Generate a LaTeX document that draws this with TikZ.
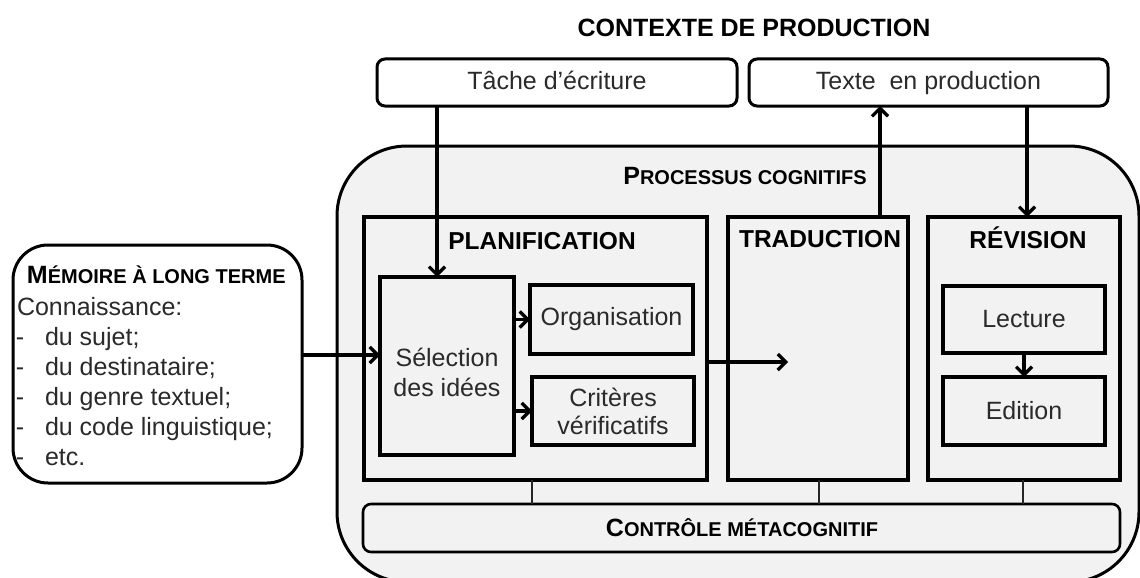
\documentclass[tikz,border=0pt]{standalone}
\usepackage{fontspec}
\setmainfont{Liberation Sans}
\usetikzlibrary{arrows.meta}
\definecolor{bggray}{HTML}{F2F2F2}
\definecolor{txtgray}{HTML}{2A2A2A}
\newcommand{\capL}[1]{{\fontsize{25}{25}\selectfont #1}}
\begin{document}
\begin{tikzpicture}[x=1pt,y=-1pt,
  every node/.style={inner sep=0pt, outer sep=0pt},
  frame/.style={draw=black, line width=3pt, fill=bggray},
  topbox/.style={draw=black, line width=3pt, fill=white, rounded corners=8pt,
    text=txtgray, font=\fontsize{25}{25}\selectfont, text height=17pt, text depth=3pt},
  panel/.style={draw=black, line width=3.6pt, fill=bggray},
  inbox/.style={draw=black, line width=3.6pt, fill=bggray, align=center, text=txtgray,
    font=\fontsize{25}{28}\selectfont},
  head/.style={font=\bfseries\fontsize{24.5}{25}\selectfont, anchor=base},
  scap/.style={font=\bfseries\fontsize{20}{20}\selectfont, anchor=base},
  plain/.style={font=\fontsize{25}{25}\selectfont, text=txtgray, anchor=base west},
  lbl/.style={font=\fontsize{25}{30}\selectfont, text=txtgray, align=center},
  arr/.style={line width=3.2pt, -{Straight Barb[length=8pt,width=16pt]}},
  link/.style={line width=1.8pt, draw=black!85}
]
\useasboundingbox (0,0) rectangle (1140,578);

% outer frame of cognitive processes
\node[frame, rounded corners=70pt, minimum width=802pt, minimum height=436pt] (proc) at (738,364) {};

% title and context boxes
\node[head, font=\bfseries\fontsize{25}{25}\selectfont] (ctx) at (754,37) {CONTEXTE DE PRODUCTION};
\node[topbox, minimum width=360pt, minimum height=47pt] (tache) at (557,82.5) {Tâche d’écriture};
\node[topbox, minimum width=359pt, minimum height=47pt] (texte) at (928.5,82.5) {Texte\ \ en production};

\node[scap] (proct) at (745,184) {\capL{P}ROCESSUS COGNITIFS};

% panels
\node[panel, minimum width=343pt, minimum height=263pt] (plan) at (535.5,348.5) {};
\node[panel, minimum width=180pt, minimum height=263pt] (trad) at (818,348.5) {};
\node[panel, minimum width=192pt, minimum height=263pt] (rev) at (1024,348.5) {};
\node[head] (planh) at (542,249) {PLANIFICATION};
\node[head] (tradh) at (820,247) {TRADUCTION};
\node[head] (revh) at (1028,248) {RÉVISION};

% inner boxes
\node[inbox, minimum width=134pt, minimum height=178pt] (sel) at (447,366) {};
\node[lbl] (selt) at (447,372) {Sélection\\des idées};
\node[inbox, minimum width=163pt, minimum height=69pt] (org) at (611.5,319.5) {Organisation};
\node[inbox, minimum width=162pt, minimum height=68pt] (crit) at (613,411) {Critères\\vérificatifs};
\node[inbox, minimum width=162pt, minimum height=67pt] (lect) at (1024,319.5) {Lecture};
\node[inbox, minimum width=162pt, minimum height=68pt] (edit) at (1024,411) {Edition};

% metacognitive control bar
\node[draw=black, line width=2.6pt, fill=bggray, rounded corners=8pt,
  minimum width=757pt, minimum height=48pt] (ctrl) at (741.5,528) {};
\node[scap] (ctrlt) at (742,536) {\capL{C}ONTRÔLE MÉTACOGNITIF};

% long-term memory box
\node[draw=black, line width=3pt, fill=white, rounded corners=35pt,
  minimum width=289pt, minimum height=238pt] (mem) at (157.5,364) {};
\node[scap, anchor=base west] (memh) at (27,283) {\capL{M}ÉMOIRE À LONG TERME};
\node[plain] (memc) at (17,315) {Connaissance:};
\foreach \t [count=\i] in {du sujet;, du destinataire;, du genre textuel;, du code linguistique;, etc.}{
  \node[plain] (d\i) at (16,315+30*\i) {-};
  \node[plain] (m\i) at (45,315+30*\i) {\t};
}

% helper coordinates
\coordinate (x437) at (437,0);
\coordinate (x880) at (880,0);
\coordinate (x1027) at (1027,0);
\coordinate (y355) at (0,355);
\coordinate (tin) at (788,362);
\coordinate (c1) at (532,0);
\coordinate (c2) at (819,0);
\coordinate (c3) at (1023,0);

% connectors
\draw[arr] (tache.south -| x437) -- (sel.north -| x437);
\draw[arr] (trad.north -| x880) -- (texte.south -| x880);
\draw[arr] (texte.south -| x1027) -- (rev.north -| x1027);
\draw[arr] (mem.east |- y355) -- (sel.west |- y355);
\draw[arr] (sel.east |- org.west) -- (org.west);
\draw[arr] (sel.east |- crit.west) -- (crit.west);
\draw[arr] (plan.east |- tin) -- (tin);
\draw[arr] (lect.south) -- (edit.north);
\draw[link] (plan.south -| c1) -- (ctrl.north -| c1);
\draw[link] (trad.south -| c2) -- (ctrl.north -| c2);
\draw[link] (rev.south -| c3) -- (ctrl.north -| c3);
\end{tikzpicture}
\end{document}
